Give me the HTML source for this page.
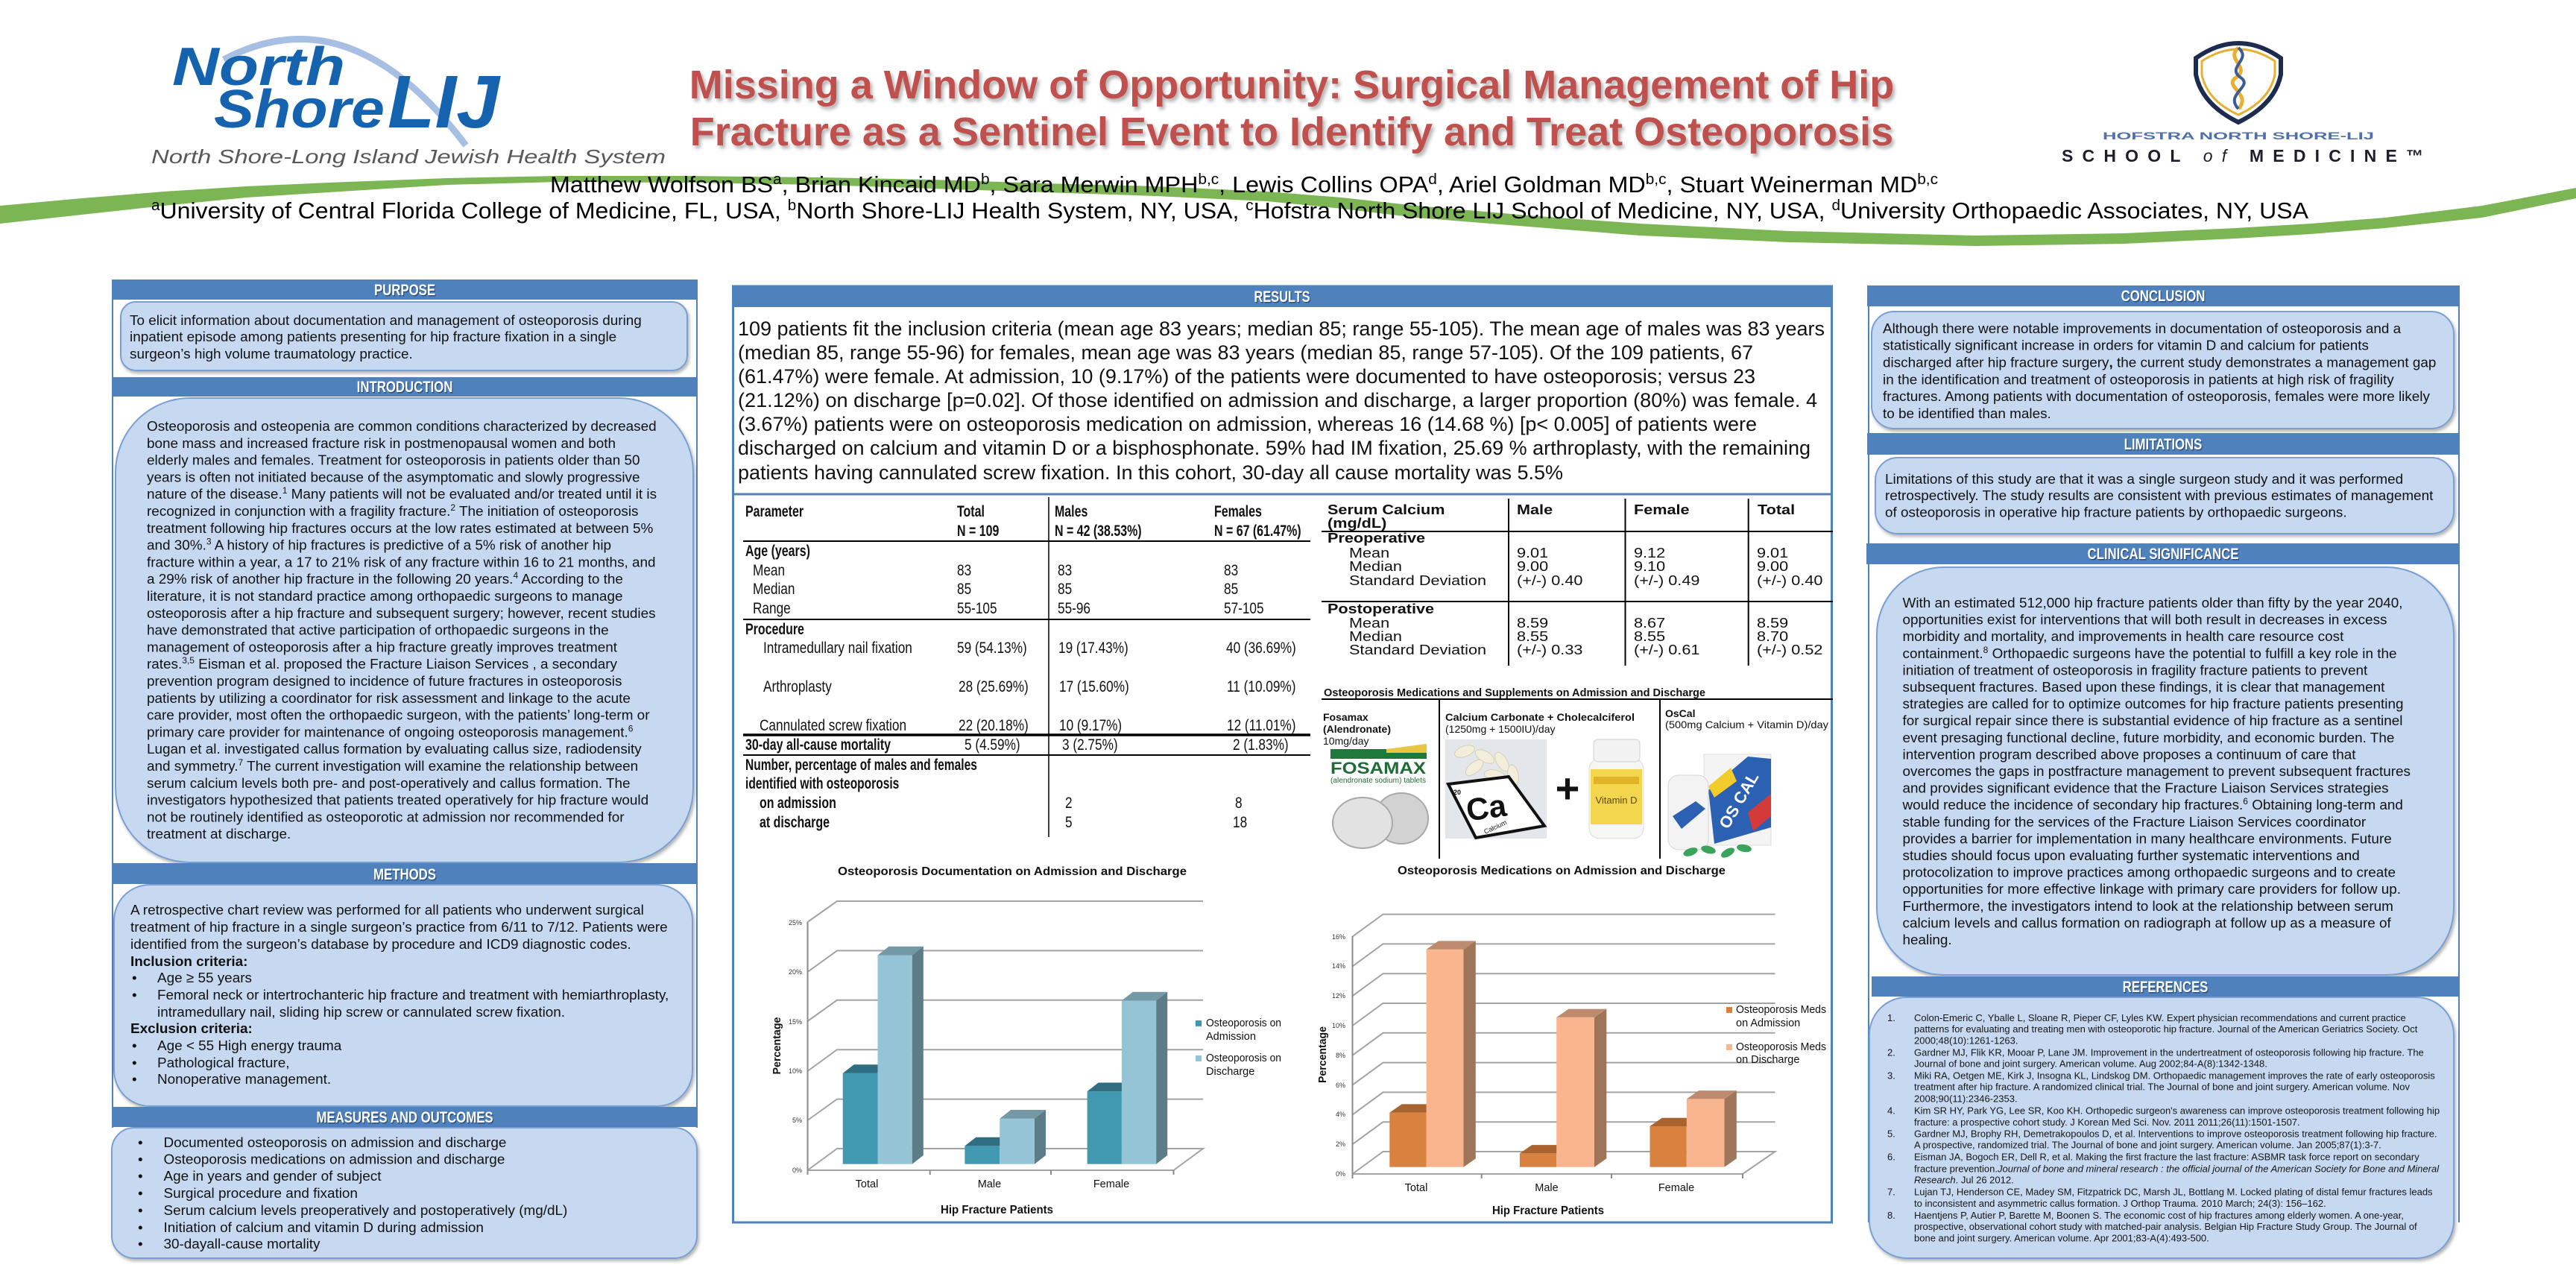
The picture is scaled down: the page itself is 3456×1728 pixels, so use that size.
<!DOCTYPE html>
<html><head><meta charset="utf-8">
<style>
html,body{margin:0;padding:0;background:#fff;overflow:hidden;}
svg{display:block;}
text{font-family:"Liberation Sans",Arial,sans-serif;}
.bt{font-size:21px;font-weight:bold;fill:#fff;}
.bs{font-size:21px;font-weight:bold;fill:#1c3557;opacity:.65;}
.f19{font-size:18.9px;fill:#111;}
.f17{font-size:18.9px;fill:#111;}
.f27{font-size:27px;fill:#111;}
.r13{font-size:13px;fill:#161616;}
.tr{font-size:21px;fill:#111;}
.tbd{font-size:21px;fill:#111;font-weight:bold;}
.sr{font-size:18.5px;fill:#111;}
.sb{font-size:18.5px;fill:#111;font-weight:bold;}
.box{fill:#c6d9f1;stroke:#7a9fd2;stroke-width:2;}
.bar{fill:#4f81bd;}
.grid{stroke:#a3a3a3;stroke-width:2;fill:none;}
.tk{font-size:9px;fill:#333;}
.cl{font-size:14.5px;fill:#111;}
</style></head><body>
<svg width="3456" height="1728" viewBox="0 0 3456 1728" xmlns="http://www.w3.org/2000/svg">
<defs>
<filter id="ds" x="-5%" y="-5%" width="110%" height="115%"><feDropShadow dx="2" dy="3" stdDeviation="2" flood-color="#000" flood-opacity=".3"/></filter>
<filter id="ts" x="-5%" y="-20%" width="110%" height="160%"><feGaussianBlur stdDeviation="2.5"/></filter>
</defs>
<rect width="3456" height="1728" fill="#fff"/>

<!-- green swoosh -->
<path fill="#7cb553" d="M0,276 L110,266 L220,257 L330,250 L441,245 L600,239 L750,236 L920,236 L1100,238 L1250,241 L1400,246 L1550,250 L1700,257 L1800,265 L1900,276 L2050,289 L2200,300 L2400,310 L2650,316 L2850,313 L3000,306 L3100,300 L3200,292 L3330,276 L3456,252 L3456,266 L3330,292 L3200,306 L3100,314 L3000,320 L2850,327 L2650,330 L2400,325 L2200,316 L2050,304 L1900,292 L1800,280 L1700,270 L1550,263 L1400,258 L1250,253 L1100,248 L920,245 L750,244 L600,248 L441,258 L330,265 L220,276 L110,288 L0,300 Z"/>

<!-- North Shore LIJ logo -->
<path d="M300,80 Q470,-10 625,195" fill="none" stroke="#a8bfe4" stroke-width="9"/>
<text x="231" y="114" font-size="72" font-weight="bold" font-style="italic" fill="#1563ae" textLength="232" lengthAdjust="spacingAndGlyphs">North</text>
<text x="287" y="171" font-size="72" font-weight="bold" font-style="italic" fill="#1563ae" textLength="229" lengthAdjust="spacingAndGlyphs">Shore</text>
<text x="520" y="171" font-size="100" font-weight="bold" font-style="italic" fill="#1563ae" textLength="150" lengthAdjust="spacingAndGlyphs">LIJ</text>
<text x="203" y="219" font-size="26" font-style="italic" fill="#585858" textLength="690" lengthAdjust="spacingAndGlyphs">North Shore-Long Island Jewish Health System</text>

<!-- Hofstra logo -->
<path d="M2946,78 Q3003,38 3060,78 L3060,100 Q3052,140 3003,164 Q2954,140 2946,100 Z" fill="#fff" stroke="#1d2b4f" stroke-width="6"/>
<path d="M2954,82 Q3003,50 3052,82 L3052,100 Q3045,135 3003,154 Q2961,135 2954,100 Z" fill="#fff" stroke="#e8b030" stroke-width="3"/>
<path d="M3003,64 C2985,80 3020,90 3000,104 C2982,116 3022,126 3003,146" fill="none" stroke="#e8b030" stroke-width="5"/>
<path d="M3003,64 C3022,80 2986,90 3006,104 C3024,116 2984,126 3003,146" fill="none" stroke="#3a5a9a" stroke-width="4"/>
<text x="2821" y="187" font-size="14" font-weight="bold" fill="#5070ad" textLength="364" lengthAdjust="spacingAndGlyphs">HOFSTRA NORTH SHORE-LIJ</text>
<text x="2766" y="217" font-size="23" font-weight="bold" fill="#1d1d2b" textLength="485" lengthAdjust="spacing">SCHOOL <tspan font-style="italic" font-weight="normal">of</tspan> MEDICINE™</text>

<!-- Title -->
<g filter="url(#ts)" opacity=".45">
<text x="1736" y="136" text-anchor="middle" font-size="54" font-weight="bold" fill="#555">Missing a Window of Opportunity: Surgical Management of Hip</text>
<text x="1736" y="199" text-anchor="middle" font-size="54" font-weight="bold" fill="#555">Fracture as a Sentinel Event to Identify and Treat Osteoporosis</text>
</g>
<text x="1733" y="132" text-anchor="middle" font-size="54" font-weight="bold" fill="#c0504d">Missing a Window of Opportunity: Surgical Management of Hip</text>
<text x="1733" y="195" text-anchor="middle" font-size="54" font-weight="bold" fill="#c0504d">Fracture as a Sentinel Event to Identify and Treat Osteoporosis</text>

<!-- Authors -->
<text x="738" y="258" font-size="31" fill="#000" textLength="1862" lengthAdjust="spacingAndGlyphs">Matthew Wolfson BS<tspan dy="-11" font-size="20">a</tspan><tspan dy="11">, Brian Kincaid MD</tspan><tspan dy="-11" font-size="20">b</tspan><tspan dy="11">,  Sara Merwin MPH</tspan><tspan dy="-11" font-size="20">b,c</tspan><tspan dy="11">, Lewis Collins OPA</tspan><tspan dy="-11" font-size="20">d</tspan><tspan dy="11">, Ariel Goldman MD</tspan><tspan dy="-11" font-size="20">b,c</tspan><tspan dy="11">, Stuart Weinerman MD</tspan><tspan dy="-11" font-size="20">b,c</tspan></text>
<text x="203" y="293" font-size="31" fill="#000" textLength="2894" lengthAdjust="spacingAndGlyphs"><tspan dy="-11" font-size="20">a</tspan><tspan dy="11">University of Central Florida College of Medicine, FL, USA, </tspan><tspan dy="-11" font-size="20">b</tspan><tspan dy="11">North Shore-LIJ Health System, NY, USA, </tspan><tspan dy="-11" font-size="20">c</tspan><tspan dy="11">Hofstra North Shore LIJ School of Medicine, NY, USA, </tspan><tspan dy="-11" font-size="20">d</tspan><tspan dy="11">University Orthopaedic Associates, NY, USA</tspan></text>

<!-- ============ LEFT COLUMN ============ -->
<line x1="151" y1="376" x2="151" y2="1513" stroke="#4f81bd" stroke-width="2"/>
<line x1="935" y1="376" x2="935" y2="1513" stroke="#4f81bd" stroke-width="2"/>

<rect class="bar" x="150" y="375" width="786" height="27"/>
<g transform="translate(543 396) scale(.8 1)"><text class="bs" x="1.5" y="1.5" text-anchor="middle">PURPOSE</text><text class="bt" text-anchor="middle">PURPOSE</text></g>
<rect class="box" x="162" y="405" width="760" height="92" rx="20" filter="url(#ds)"/>
<text class="f19" x="174" y="436">To elicit information about documentation and management of osteoporosis during</text>
<text class="f19" x="174" y="458">inpatient episode among patients presenting for hip fracture fixation in a single</text>
<text class="f19" x="174" y="481">surgeon’s high volume traumatology practice.</text>

<rect class="bar" x="150" y="506" width="786" height="26"/>
<g transform="translate(543 526) scale(.8 1)"><text class="bs" x="1.5" y="1.5" text-anchor="middle">INTRODUCTION</text><text class="bt" text-anchor="middle">INTRODUCTION</text></g>
<rect class="box" x="155" y="534" width="775" height="623" rx="100" filter="url(#ds)"/>
<g class="f17">
<text class="f17" x="197" y="578">Osteoporosis and osteopenia are common conditions characterized by decreased</text>
<text class="f17" x="197" y="600.8">bone mass and increased fracture risk in postmenopausal women and both</text>
<text class="f17" x="197" y="623.6">elderly males and females. Treatment for osteoporosis in patients older than 50</text>
<text class="f17" x="197" y="646.4">years is often not initiated because of the asymptomatic and slowly progressive</text>
<text class="f17" x="197" y="669.2">nature of the disease.<tspan dy="-7" font-size="12">1</tspan><tspan dy="7"> Many patients will not be evaluated and/or treated until it is</tspan></text>
<text class="f17" x="197" y="692">recognized in conjunction with a fragility fracture.<tspan dy="-7" font-size="12">2</tspan><tspan dy="7"> The initiation of osteoporosis</tspan></text>
<text class="f17" x="197" y="714.8">treatment following hip fractures  occurs at the low rates estimated at between 5%</text>
<text class="f17" x="197" y="737.6">and 30%.<tspan dy="-7" font-size="12">3</tspan><tspan dy="7"> A history of hip fractures is predictive of a 5% risk of another hip</tspan></text>
<text class="f17" x="197" y="760.4">fracture within a year, a 17 to 21% risk of any fracture within 16 to 21 months, and</text>
<text class="f17" x="197" y="783.2">a 29% risk of another hip fracture in the following 20 years.<tspan dy="-7" font-size="12">4</tspan><tspan dy="7"> According to the</tspan></text>
<text class="f17" x="197" y="806">literature, it is not standard practice among orthopaedic surgeons to manage</text>
<text class="f17" x="197" y="828.8">osteoporosis after a hip fracture and subsequent surgery; however, recent studies</text>
<text class="f17" x="197" y="851.6">have demonstrated that active participation of orthopaedic surgeons in the</text>
<text class="f17" x="197" y="874.4">management of osteoporosis after a hip fracture greatly improves treatment</text>
<text class="f17" x="197" y="897.2">rates.<tspan dy="-7" font-size="12">3,5</tspan><tspan dy="7"> Eisman et al. proposed the Fracture Liaison Services , a secondary</tspan></text>
<text class="f17" x="197" y="920">prevention program designed to incidence of future fractures in osteoporosis</text>
<text class="f17" x="197" y="942.8">patients by utilizing a coordinator for risk assessment and linkage to the acute</text>
<text class="f17" x="197" y="965.6">care provider, most often the orthopaedic surgeon, with the patients’ long-term or</text>
<text class="f17" x="197" y="988.4">primary care provider for maintenance of  ongoing osteoporosis management.<tspan dy="-7" font-size="12">6</tspan></text>
<text class="f17" x="197" y="1011.2">Lugan et al. investigated callus formation by evaluating callus size, radiodensity</text>
<text class="f17" x="197" y="1034">and symmetry.<tspan dy="-7" font-size="12">7</tspan><tspan dy="7"> The current investigation will examine the relationship between</tspan></text>
<text class="f17" x="197" y="1056.8">serum calcium levels both pre- and post-operatively and callus formation. The</text>
<text class="f17" x="197" y="1079.6">investigators hypothesized that patients treated operatively for hip fracture would</text>
<text class="f17" x="197" y="1102.4">not be routinely identified as osteoporotic at admission nor recommended for</text>
<text class="f17" x="197" y="1125.2">treatment at discharge.</text>
</g>

<rect class="bar" x="150" y="1158" width="786" height="28"/>
<g transform="translate(543 1180) scale(.8 1)"><text class="bs" x="1.5" y="1.5" text-anchor="middle">METHODS</text><text class="bt" text-anchor="middle">METHODS</text></g>
<rect class="box" x="153" y="1187" width="776" height="297" rx="48" filter="url(#ds)"/>
<text class="f19" x="175" y="1227">A retrospective chart review was performed for all patients who underwent surgical</text>
<text class="f19" x="175" y="1250">treatment of hip fracture in a single surgeon’s practice from 6/11 to 7/12. Patients were</text>
<text class="f19" x="175" y="1273">identified from the surgeon’s database by procedure and ICD9 diagnostic codes.</text>
<text class="f19" x="175" y="1296" font-weight="bold">Inclusion criteria:</text>
<text class="f19" x="177" y="1318">•</text><text class="f19" x="211" y="1318">Age ≥ 55 years</text>
<text class="f19" x="177" y="1341">•</text><text class="f19" x="211" y="1341">Femoral neck or intertrochanteric hip fracture and treatment with hemiarthroplasty,</text>
<text class="f19" x="211" y="1364">intramedullary nail, sliding hip screw or cannulated screw fixation.</text>
<text class="f19" x="175" y="1386" font-weight="bold">Exclusion criteria:</text>
<text class="f19" x="177" y="1409">•</text><text class="f19" x="211" y="1409">Age &lt; 55 High energy trauma</text>
<text class="f19" x="177" y="1432">•</text><text class="f19" x="211" y="1432">Pathological fracture,</text>
<text class="f19" x="177" y="1454">•</text><text class="f19" x="211" y="1454">Nonoperative management.</text>

<rect class="bar" x="150" y="1485" width="786" height="27"/>
<g transform="translate(543 1506) scale(.8 1)"><text class="bs" x="1.5" y="1.5" text-anchor="middle">MEASURES AND OUTCOMES</text><text class="bt" text-anchor="middle">MEASURES AND OUTCOMES</text></g>
<rect class="box" x="150" y="1513" width="785" height="175" rx="30" filter="url(#ds)"/>
<text class="f19" x="185" y="1539">•</text><text class="f19" x="219.5" y="1539">Documented osteoporosis on admission and discharge</text>
<text class="f19" x="185" y="1561.5">•</text><text class="f19" x="219.5" y="1561.5">Osteoporosis medications on admission and discharge</text>
<text class="f19" x="185" y="1584">•</text><text class="f19" x="219.5" y="1584">Age in years and gender of subject</text>
<text class="f19" x="185" y="1607">•</text><text class="f19" x="219.5" y="1607">Surgical procedure and fixation</text>
<text class="f19" x="185" y="1630">•</text><text class="f19" x="219.5" y="1630">Serum calcium levels preoperatively and postoperatively (mg/dL)</text>
<text class="f19" x="185" y="1653">•</text><text class="f19" x="219.5" y="1653">Initiation of calcium and vitamin D during admission</text>
<text class="f19" x="185" y="1675">•</text><text class="f19" x="219.5" y="1675">30-dayall-cause mortality</text>

<!-- ============ MIDDLE COLUMN ============ -->
<rect x="983.5" y="384" width="1474" height="1256" fill="none" stroke="#4f81bd" stroke-width="3"/>
<rect class="bar" x="982" y="383" width="1477" height="29"/>
<g transform="translate(1720 405) scale(.78 1)"><text class="bs" x="1.5" y="1.5" text-anchor="middle">RESULTS</text><text class="bt" text-anchor="middle">RESULTS</text></g>
<text class="f27" x="990" y="450" textLength="1458" lengthAdjust="spacing">109 patients fit the inclusion criteria (mean age 83 years; median 85; range 55-105). The mean age of males was 83 years</text>
<text class="f27" x="990" y="482" textLength="1362" lengthAdjust="spacing">(median 85, range 55-96) for females, mean age was 83 years (median 85, range 57-105). Of the 109 patients, 67</text>
<text class="f27" x="990" y="514" textLength="1365" lengthAdjust="spacing">(61.47%) were female. At admission, 10 (9.17%) of the patients were documented to have osteoporosis; versus 23</text>
<text class="f27" x="990" y="546" textLength="1448" lengthAdjust="spacing">(21.12%) on discharge [p=0.02]. Of those identified on admission and discharge, a larger proportion (80%) was female.  4</text>
<text class="f27" x="990" y="578" textLength="1367" lengthAdjust="spacing">(3.67%) patients were on osteoporosis medication on admission, whereas 16 (14.68 %) [p&lt; 0.005] of patients were</text>
<text class="f27" x="990" y="610" textLength="1439" lengthAdjust="spacing">discharged on calcium and vitamin D or a bisphosphonate. 59% had IM fixation, 25.69 % arthroplasty, with the remaining</text>
<text class="f27" x="990" y="643" textLength="1107" lengthAdjust="spacing">patients having cannulated screw fixation. In this cohort, 30-day all cause mortality was 5.5%</text>
<line x1="982" y1="663" x2="2459" y2="663" stroke="#4f81bd" stroke-width="3"/>

<!-- Table 1 -->
<g stroke="#000" stroke-width="2">
<line x1="997" y1="726" x2="1758" y2="726"/>
<line x1="997" y1="831" x2="1758" y2="831"/>
<line x1="997" y1="986" x2="1758" y2="986" stroke-width="3.5"/>
<line x1="997" y1="1013" x2="1758" y2="1013"/>
<line x1="1407" y1="667" x2="1407" y2="1123" stroke-width="1.5"/>
</g>
<text class="tbd" transform="translate(1000 693) scale(.76 1)">Parameter</text>
<text class="tbd" transform="translate(1284 693) scale(.76 1)">Total</text>
<text class="tbd" transform="translate(1284 719) scale(.76 1)">N = 109</text>
<text class="tbd" transform="translate(1415 693) scale(.76 1)">Males</text>
<text class="tbd" transform="translate(1415 719) scale(.76 1)">N = 42 (38.53%)</text>
<text class="tbd" transform="translate(1629 693) scale(.76 1)">Females</text>
<text class="tbd" transform="translate(1629 719) scale(.76 1)">N = 67 (61.47%)</text>
<text class="tbd" transform="translate(1000 746) scale(.76 1)">Age (years)</text>
<text class="tr" transform="translate(1010 772) scale(.82 1)">Mean</text>
<text class="tr" transform="translate(1284 772) scale(.82 1)">83</text>
<text class="tr" transform="translate(1419 772) scale(.82 1)">83</text>
<text class="tr" transform="translate(1642 772) scale(.82 1)">83</text>
<text class="tr" transform="translate(1010 797) scale(.82 1)">Median</text>
<text class="tr" transform="translate(1284 797) scale(.82 1)">85</text>
<text class="tr" transform="translate(1419 797) scale(.82 1)">85</text>
<text class="tr" transform="translate(1642 797) scale(.82 1)">85</text>
<text class="tr" transform="translate(1010 823) scale(.82 1)">Range</text>
<text class="tr" transform="translate(1284 823) scale(.82 1)">55-105</text>
<text class="tr" transform="translate(1419 823) scale(.82 1)">55-96</text>
<text class="tr" transform="translate(1642 823) scale(.82 1)">57-105</text>
<text class="tbd" transform="translate(1000 851) scale(.76 1)">Procedure</text>
<text class="tr" transform="translate(1024 876) scale(.82 1)">Intramedullary  nail fixation</text>
<text class="tr" transform="translate(1284 876) scale(.82 1)">59 (54.13%)</text>
<text class="tr" transform="translate(1420 876) scale(.82 1)">19 (17.43%)</text>
<text class="tr" transform="translate(1645 876) scale(.82 1)">40 (36.69%)</text>
<text class="tr" transform="translate(1024 928) scale(.82 1)">Arthroplasty</text>
<text class="tr" transform="translate(1286 928) scale(.82 1)">28 (25.69%)</text>
<text class="tr" transform="translate(1421 928) scale(.82 1)">17 (15.60%)</text>
<text class="tr" transform="translate(1646 928) scale(.82 1)">11 (10.09%)</text>
<text class="tr" transform="translate(1019 980) scale(.82 1)">Cannulated  screw fixation</text>
<text class="tr" transform="translate(1286 980) scale(.82 1)">22 (20.18%)</text>
<text class="tr" transform="translate(1421 980) scale(.82 1)">10 (9.17%)</text>
<text class="tr" transform="translate(1646 980) scale(.82 1)">12 (11.01%)</text>
<text class="tbd" transform="translate(1000 1006) scale(.76 1)">30-day  all-cause  mortality</text>
<text class="tr" transform="translate(1294 1006) scale(.82 1)">5 (4.59%)</text>
<text class="tr" transform="translate(1425 1006) scale(.82 1)">3 (2.75%)</text>
<text class="tr" transform="translate(1654 1006) scale(.82 1)">2 (1.83%)</text>
<text class="tbd" transform="translate(1000 1033) scale(.74 1)">Number, percentage  of males and females</text>
<text class="tbd" transform="translate(1000 1058) scale(.74 1)">identified with osteoporosis</text>
<text class="tbd" transform="translate(1019 1084) scale(.76 1)">on admission</text>
<text class="tr" transform="translate(1429 1084) scale(.82 1)">2</text>
<text class="tr" transform="translate(1657 1084) scale(.82 1)">8</text>
<text class="tbd" transform="translate(1019 1110) scale(.76 1)">at discharge</text>
<text class="tr" transform="translate(1429 1110) scale(.82 1)">5</text>
<text class="tr" transform="translate(1654 1110) scale(.82 1)">18</text>

<!-- Table 2 -->
<g stroke="#000" stroke-width="2">
<line x1="1773" y1="713" x2="2459" y2="713"/>
<line x1="1773" y1="807" x2="2459" y2="807"/>
<line x1="2024" y1="669" x2="2024" y2="893"/>
<line x1="2180.5" y1="669" x2="2180.5" y2="893"/>
<line x1="2345.7" y1="669" x2="2345.7" y2="893"/>
</g>
<text class="sb" transform="translate(1781 690) scale(1.17 1)">Serum Calcium</text>
<text class="sb" transform="translate(1781 708) scale(1.17 1)">(mg/dL)</text>
<text class="sb" transform="translate(2035 690) scale(1.17 1)">Male</text>
<text class="sb" transform="translate(2192 690) scale(1.17 1)">Female</text>
<text class="sb" transform="translate(2358 690) scale(1.17 1)">Total</text>
<text class="sb" transform="translate(1781 728) scale(1.17 1)">Preoperative</text>
<text class="sr" transform="translate(1810 748) scale(1.17 1)">Mean</text>
<text class="sr" transform="translate(1810 766) scale(1.17 1)">Median</text>
<text class="sr" transform="translate(1810 785) scale(1.17 1)">Standard Deviation</text>
<text class="sr" transform="translate(2035 748) scale(1.17 1)">9.01</text>
<text class="sr" transform="translate(2035 766) scale(1.17 1)">9.00</text>
<text class="sr" transform="translate(2035 785) scale(1.17 1)">(+/-) 0.40</text>
<text class="sr" transform="translate(2192 748) scale(1.17 1)">9.12</text>
<text class="sr" transform="translate(2192 766) scale(1.17 1)">9.10</text>
<text class="sr" transform="translate(2192 785) scale(1.17 1)">(+/-) 0.49</text>
<text class="sr" transform="translate(2357 748) scale(1.17 1)">9.01</text>
<text class="sr" transform="translate(2357 766) scale(1.17 1)">9.00</text>
<text class="sr" transform="translate(2357 785) scale(1.17 1)">(+/-) 0.40</text>
<text class="sb" transform="translate(1781 823) scale(1.17 1)">Postoperative</text>
<text class="sr" transform="translate(1810 842) scale(1.17 1)">Mean</text>
<text class="sr" transform="translate(1810 860) scale(1.17 1)">Median</text>
<text class="sr" transform="translate(1810 878) scale(1.17 1)">Standard Deviation</text>
<text class="sr" transform="translate(2035 842) scale(1.17 1)">8.59</text>
<text class="sr" transform="translate(2035 860) scale(1.17 1)">8.55</text>
<text class="sr" transform="translate(2035 878) scale(1.17 1)">(+/-) 0.33</text>
<text class="sr" transform="translate(2192 842) scale(1.17 1)">8.67</text>
<text class="sr" transform="translate(2192 860) scale(1.17 1)">8.55</text>
<text class="sr" transform="translate(2192 878) scale(1.17 1)">(+/-) 0.61</text>
<text class="sr" transform="translate(2357 842) scale(1.17 1)">8.59</text>
<text class="sr" transform="translate(2357 860) scale(1.17 1)">8.70</text>
<text class="sr" transform="translate(2357 878) scale(1.17 1)">(+/-) 0.52</text>

<!-- Medications -->
<text x="1776" y="934" font-size="14.5" font-weight="bold" fill="#111" textLength="512" lengthAdjust="spacingAndGlyphs">Osteoporosis Medications and Supplements on Admission  and Discharge</text>
<g stroke="#000" stroke-width="2">
<line x1="1773" y1="938" x2="2459" y2="938"/>
<line x1="1931" y1="938" x2="1931" y2="1152"/>
<line x1="2227" y1="938" x2="2227" y2="1152"/>
</g>
<text x="1775" y="967" font-size="14" font-weight="bold" fill="#111">Fosamax</text>
<text x="1775" y="983" font-size="14" font-weight="bold" fill="#111">(Alendronate)</text>
<text x="1775" y="999" font-size="14" fill="#111">10mg/day</text>
<rect x="1785" y="1005" width="129" height="13" fill="#1e7a3c"/>
<polygon points="1860,1005 1914,998 1914,1010 1860,1010" fill="#e8c542"/>
<text x="1785" y="1038" font-size="22" font-weight="bold" fill="#1f6b35" textLength="128" lengthAdjust="spacingAndGlyphs">FOSAMAX</text>
<text x="1785" y="1050" font-size="10" fill="#2a6a3a" textLength="128" lengthAdjust="spacingAndGlyphs">(alendronate sodium) tablets</text>
<ellipse cx="1880" cy="1098" rx="36" ry="34" fill="#d2d2d2" stroke="#a8a8a8" stroke-width="2"/>
<ellipse cx="1828" cy="1104" rx="40" ry="34" fill="#e2e2e2" stroke="#a8a8a8" stroke-width="2"/>

<text x="1939" y="967" font-size="14" font-weight="bold" fill="#111" textLength="254" lengthAdjust="spacingAndGlyphs">Calcium Carbonate + Cholecalciferol</text>
<text x="1939" y="983" font-size="14" fill="#111">(1250mg + 1500IU)/day</text>
<rect x="1939" y="992" width="136" height="133" fill="#e3e6ea"/>
<g fill="#f3eedb" stroke="#d8d0b6">
<ellipse cx="1965" cy="1008" rx="14" ry="7" transform="rotate(-20 1965 1008)"/>
<ellipse cx="1992" cy="1015" rx="14" ry="7" transform="rotate(30 1992 1015)"/>
<ellipse cx="2015" cy="1022" rx="14" ry="7" transform="rotate(60 2015 1022)"/>
<ellipse cx="1978" cy="1030" rx="14" ry="7" transform="rotate(-40 1978 1030)"/>
<ellipse cx="2030" cy="1040" rx="14" ry="7" transform="rotate(80 2030 1040)"/>
<ellipse cx="2005" cy="1040" rx="14" ry="7" transform="rotate(10 2005 1040)"/>
</g>
<polygon points="1943,1052 2024,1042 2072,1108 1980,1124" fill="#fff" stroke="#111" stroke-width="4"/>
<text x="1950" y="1066" font-size="9" font-weight="bold" fill="#111">20</text>
<text x="1968" y="1098" font-size="42" font-weight="bold" fill="#111" transform="rotate(-8 1995 1090)">Ca</text>
<text x="1990" y="1113" font-size="9" fill="#111" transform="rotate(-25 2005 1110)">Calcium</text>
<text x="2103" y="1077" font-size="56" font-weight="bold" fill="#111" text-anchor="middle">+</text>
<rect x="2132" y="1018" width="73" height="107" rx="14" fill="#f6f6f3" stroke="#dcdcdc"/>
<rect x="2138" y="992" width="62" height="30" rx="6" fill="#f2f2f2" stroke="#d0d0d0"/>
<rect x="2134" y="1032" width="69" height="74" fill="#f3d54e"/>
<rect x="2138" y="1042" width="61" height="10" fill="#e0b428"/>
<text x="2168.5" y="1078" font-size="13" font-family="Liberation Serif,serif" fill="#5a4a10" text-anchor="middle" textLength="56" lengthAdjust="spacingAndGlyphs">Vitamin D</text>

<text x="2234" y="962" font-size="14" font-weight="bold" fill="#111">OsCal</text>
<text x="2234" y="977" font-size="14" fill="#111" textLength="219" lengthAdjust="spacingAndGlyphs">(500mg Calcium + Vitamin D)/day</text>
<rect x="2286" y="1012" width="90" height="122" fill="#f4f4f4" stroke="#ddd"/>
<polygon points="2292,1060 2345,1015 2376,1018 2376,1110 2300,1132" fill="#2b60b3"/>
<polygon points="2292,1055 2322,1030 2330,1048 2300,1070" fill="#f2cc2a"/>
<polygon points="2345,1090 2376,1065 2376,1095 2352,1115" fill="#d43a3a"/>
<text x="2335" y="1080" font-size="22" font-weight="bold" fill="#fff" text-anchor="middle" transform="rotate(-60 2335 1075)">OS CAL</text>
<rect x="2238" y="1040" width="54" height="100" rx="14" fill="#f3f3f3" stroke="#d6d6d6"/>
<polygon points="2244,1095 2275,1075 2288,1085 2256,1112" fill="#2b60b3"/>
<g fill="#3aa45c">
<ellipse cx="2268" cy="1143" rx="10" ry="5" transform="rotate(-20 2268 1143)"/>
<ellipse cx="2292" cy="1140" rx="10" ry="5" transform="rotate(15 2292 1140)"/>
<ellipse cx="2318" cy="1144" rx="10" ry="5" transform="rotate(-30 2318 1144)"/>
<ellipse cx="2340" cy="1138" rx="10" ry="5" transform="rotate(10 2340 1138)"/>
</g>

<!-- Chart 1 -->
<text x="1124" y="1174" font-size="15.5" font-weight="bold" fill="#111" textLength="468" lengthAdjust="spacingAndGlyphs">Osteoporosis Documentation on Admission and Discharge</text>
<g class="grid">
<polyline points="1083.5,1237 1123,1209 1614,1209"/>
<polyline points="1083.5,1304 1123,1275.4 1614,1275.4"/>
<polyline points="1083.5,1370 1123,1341.8 1614,1341.8"/>
<polyline points="1083.5,1437 1123,1408.2 1614,1408.2"/>
<polyline points="1083.5,1503 1123,1474.6 1614,1474.6"/>
<polyline points="1083.5,1570 1123,1541 1614,1541 1574.5,1570 1083.5,1570"/>
</g>
<line x1="1083.5" y1="1237" x2="1083.5" y2="1576" stroke="#8a8a8a" stroke-width="2"/>
<g stroke="#8a8a8a" stroke-width="2"><line x1="1247.7" y1="1570" x2="1247.7" y2="1576"/><line x1="1410" y1="1570" x2="1410" y2="1576"/><line x1="1574.5" y1="1570" x2="1574.5" y2="1576"/></g>
<g class="tk" text-anchor="end">
<text x="1076" y="1241">25%</text><text x="1076" y="1307">20%</text><text x="1076" y="1374">15%</text><text x="1076" y="1440">10%</text><text x="1076" y="1506">5%</text><text x="1076" y="1573">0%</text>
</g>
<rect x="1130.7" y="1439.9" width="46.8" height="121.8" fill="#4198b1"/>
<polygon points="1130.7,1439.9 1177.5,1439.9 1192.5,1428.2 1145.7,1428.2" fill="#2f6e80"/>
<rect x="1177.5" y="1281.5" width="46.3" height="280.2" fill="#94c4d6"/>
<polygon points="1177.5,1281.5 1223.8,1281.5 1238.8,1269.8 1192.5,1269.8" fill="#7498a6"/>
<polygon points="1223.8,1281.5 1238.8,1269.8 1238.8,1550 1223.8,1561.7" fill="#5c7c88"/>
<rect x="1294.4" y="1537.4" width="46.8" height="24.3" fill="#4198b1"/>
<polygon points="1294.4,1537.4 1341.2,1537.4 1356.2,1525.7 1309.4,1525.7" fill="#2f6e80"/>
<rect x="1341.2" y="1500.7" width="46.8" height="61" fill="#94c4d6"/>
<polygon points="1341.2,1500.7 1388,1500.7 1403,1489 1356.2,1489" fill="#7498a6"/>
<polygon points="1388,1500.7 1403,1489 1403,1550 1388,1561.7" fill="#5c7c88"/>
<rect x="1458.6" y="1464.2" width="46.3" height="97.5" fill="#4198b1"/>
<polygon points="1458.6,1464.2 1504.9,1464.2 1519.9,1452.5 1473.6,1452.5" fill="#2f6e80"/>
<rect x="1504.9" y="1342.4" width="46.3" height="219.3" fill="#94c4d6"/>
<polygon points="1504.9,1342.4 1551.2,1342.4 1566.2,1330.7 1519.9,1330.7" fill="#7498a6"/>
<polygon points="1551.2,1342.4 1566.2,1330.7 1566.2,1550 1551.2,1561.7" fill="#5c7c88"/>
<rect x="1604" y="1369" width="8" height="8" fill="#4198b1"/>
<text class="cl" x="1618" y="1377" font-size="14" textLength="101" lengthAdjust="spacingAndGlyphs">Osteoporosis on</text>
<text class="cl" x="1618" y="1395" font-size="14">Admission</text>
<rect x="1604" y="1416" width="8" height="8" fill="#94c4d6"/>
<text class="cl" x="1618" y="1424" font-size="14" textLength="101" lengthAdjust="spacingAndGlyphs">Osteoporosis on</text>
<text class="cl" x="1618" y="1442" font-size="14">Discharge</text>
<text class="cl" x="1163" y="1593" text-anchor="middle">Total</text>
<text class="cl" x="1327.5" y="1593" text-anchor="middle">Male</text>
<text class="cl" x="1491" y="1593" text-anchor="middle">Female</text>
<text x="1262" y="1628" font-size="16" font-weight="bold" fill="#111" textLength="151" lengthAdjust="spacingAndGlyphs">Hip Fracture Patients</text>
<text transform="translate(1047 1403) rotate(-90)" text-anchor="middle" font-size="15" font-weight="bold" fill="#111" textLength="77" lengthAdjust="spacingAndGlyphs">Percentage</text>

<!-- Chart 2 -->
<text x="1875" y="1173" font-size="15.5" font-weight="bold" fill="#111" textLength="440" lengthAdjust="spacingAndGlyphs">Osteoporosis Medications on Admission and Discharge</text>
<g class="grid">
<polyline points="1814.5,1256.6 1855.5,1226.6 2381.5,1226.6"/>
<polyline points="1814.5,1296.4 1855.5,1266.4 2381.5,1266.4"/>
<polyline points="1814.5,1336.2 1855.5,1306.2 2381.5,1306.2"/>
<polyline points="1814.5,1376 1855.5,1346 2381.5,1346"/>
<polyline points="1814.5,1415.8 1855.5,1385.8 2381.5,1385.8"/>
<polyline points="1814.5,1455.6 1855.5,1425.6 2381.5,1425.6"/>
<polyline points="1814.5,1495.4 1855.5,1465.4 2381.5,1465.4"/>
<polyline points="1814.5,1535.2 1855.5,1505.2 2381.5,1505.2"/>
<polyline points="1814.5,1575 1855.5,1545 2381.5,1545 2338,1575 1814.5,1575"/>
</g>
<line x1="1814.5" y1="1256" x2="1814.5" y2="1581" stroke="#8a8a8a" stroke-width="2"/>
<g stroke="#8a8a8a" stroke-width="2"><line x1="1987.7" y1="1575" x2="1987.7" y2="1581"/><line x1="2162" y1="1575" x2="2162" y2="1581"/><line x1="2338" y1="1575" x2="2338" y2="1581"/></g>
<g class="tk" text-anchor="end">
<text x="1805" y="1260">16%</text><text x="1805" y="1299">14%</text><text x="1805" y="1339">12%</text><text x="1805" y="1379">10%</text><text x="1805" y="1419">8%</text><text x="1805" y="1459">6%</text><text x="1805" y="1498">4%</text><text x="1805" y="1538">2%</text><text x="1805" y="1578">0%</text>
</g>
<rect x="1864.3" y="1492.7" width="49.3" height="73" fill="#d9823f"/>
<polygon points="1864.3,1492.7 1913.6,1492.7 1929.9,1481.4 1880.6,1481.4" fill="#a9632f"/>
<rect x="1913.6" y="1273.7" width="49.9" height="292" fill="#f9b58d"/>
<polygon points="1913.6,1273.7 1963.5,1273.7 1979.8,1262.4 1929.9,1262.4" fill="#be8b6e"/>
<polygon points="1963.5,1273.7 1979.8,1262.4 1979.8,1554.4 1963.5,1565.7" fill="#9e7559"/>
<rect x="2038.9" y="1547.4" width="49.3" height="18.3" fill="#d9823f"/>
<polygon points="2038.9,1547.4 2088.2,1547.4 2104.5,1536.1 2055.2,1536.1" fill="#a9632f"/>
<rect x="2088.2" y="1364.9" width="50.8" height="200.8" fill="#f9b58d"/>
<polygon points="2088.2,1364.9 2139,1364.9 2155.3,1353.6 2104.5,1353.6" fill="#be8b6e"/>
<polygon points="2139,1364.9 2155.3,1353.6 2155.3,1554.4 2139,1565.7" fill="#9e7559"/>
<rect x="2213.5" y="1511" width="49.3" height="54.7" fill="#d9823f"/>
<polygon points="2213.5,1511 2262.8,1511 2279.1,1499.7 2229.8,1499.7" fill="#a9632f"/>
<rect x="2262.8" y="1474.4" width="50.7" height="91.3" fill="#f9b58d"/>
<polygon points="2262.8,1474.4 2313.5,1474.4 2329.8,1463.1 2279.1,1463.1" fill="#be8b6e"/>
<polygon points="2313.5,1474.4 2329.8,1463.1 2329.8,1554.4 2313.5,1565.7" fill="#9e7559"/>
<rect x="2316" y="1351" width="8" height="8" fill="#d9823f"/>
<text class="cl" x="2329" y="1359" font-size="14" textLength="121" lengthAdjust="spacingAndGlyphs">Osteoporosis Meds</text>
<text class="cl" x="2329" y="1377" font-size="14">on Admission</text>
<rect x="2316" y="1401" width="8" height="8" fill="#f9b58d"/>
<text class="cl" x="2329" y="1409" font-size="14" textLength="121" lengthAdjust="spacingAndGlyphs">Osteoporosis Meds</text>
<text class="cl" x="2329" y="1426" font-size="14">on Discharge</text>
<text class="cl" x="1900" y="1598" text-anchor="middle">Total</text>
<text class="cl" x="2075" y="1598" text-anchor="middle">Male</text>
<text class="cl" x="2249" y="1598" text-anchor="middle">Female</text>
<text x="2002" y="1629" font-size="16" font-weight="bold" fill="#111" textLength="150" lengthAdjust="spacingAndGlyphs">Hip Fracture Patients</text>
<text transform="translate(1779 1415) rotate(-90)" text-anchor="middle" font-size="15" font-weight="bold" fill="#111" textLength="76" lengthAdjust="spacingAndGlyphs">Percentage</text>

<!-- ============ RIGHT COLUMN ============ -->
<line x1="2507" y1="384" x2="2507" y2="1640" stroke="#4f81bd" stroke-width="2"/>
<line x1="3299" y1="384" x2="3299" y2="1640" stroke="#4f81bd" stroke-width="2"/>

<rect class="bar" x="2505" y="383" width="795" height="28"/>
<g transform="translate(2902 404) scale(.8 1)"><text class="bs" x="1.5" y="1.5" text-anchor="middle">CONCLUSION</text><text class="bt" text-anchor="middle">CONCLUSION</text></g>
<rect class="box" x="2511" y="418" width="781" height="157" rx="30" filter="url(#ds)"/>
<text class="f19" x="2526" y="447">Although there were notable improvements in documentation of osteoporosis and a</text>
<text class="f19" x="2526" y="469.6">statistically significant increase in orders for vitamin D and calcium for patients</text>
<text class="f19" x="2526" y="492.6">discharged after hip fracture surgery<tspan font-weight="bold">,</tspan> the current study demonstrates a management gap</text>
<text class="f19" x="2526" y="515.5">in the identification and treatment of osteoporosis in patients at high risk of fragility</text>
<text class="f19" x="2526" y="538">fractures. Among patients with documentation of osteoporosis, females were more likely</text>
<text class="f19" x="2526" y="561">to be identified than males.</text>

<rect class="bar" x="2505" y="581" width="795" height="29"/>
<g transform="translate(2902 603) scale(.8 1)"><text class="bs" x="1.5" y="1.5" text-anchor="middle">LIMITATIONS</text><text class="bt" text-anchor="middle">LIMITATIONS</text></g>
<rect class="box" x="2516" y="614" width="776" height="102" rx="30" filter="url(#ds)"/>
<text class="f19" x="2529" y="649">Limitations of this study are that it was a single surgeon study and it was performed</text>
<text class="f19" x="2529" y="671">retrospectively. The study results are consistent with previous estimates of management</text>
<text class="f19" x="2529" y="693.5">of osteoporosis in operative hip fracture patients by orthopaedic surgeons.</text>

<rect class="bar" x="2504" y="729" width="796" height="28"/>
<g transform="translate(2902 750) scale(.8 1)"><text class="bs" x="1.5" y="1.5" text-anchor="middle">CLINICAL SIGNIFICANCE</text><text class="bt" text-anchor="middle">CLINICAL SIGNIFICANCE</text></g>
<rect class="box" x="2518" y="761" width="774" height="547" rx="90" filter="url(#ds)"/>
<text class="f19" x="2552.5" y="815">With an estimated 512,000 hip fracture patients older than fifty by the year 2040,</text>
<text class="f19" x="2552.5" y="837.6">opportunities exist for interventions that will both result in decreases in excess</text>
<text class="f19" x="2552.5" y="860.2">morbidity and mortality, and improvements in health care resource cost</text>
<text class="f19" x="2552.5" y="882.8">containment.<tspan dy="-7" font-size="12">8</tspan><tspan dy="7"> Orthopaedic surgeons have the potential to fulfill a key role in the</tspan></text>
<text class="f19" x="2552.5" y="905.4">initiation of treatment of osteoporosis in fragility fracture patients to prevent</text>
<text class="f19" x="2552.5" y="928">subsequent fractures. Based upon these findings, it is clear that management</text>
<text class="f19" x="2552.5" y="950.6">strategies are called for to optimize outcomes for hip fracture patients presenting</text>
<text class="f19" x="2552.5" y="973.2">for surgical repair since there is substantial evidence of hip fracture as a sentinel</text>
<text class="f19" x="2552.5" y="995.8">event presaging functional decline, future morbidity, and economic burden. The</text>
<text class="f19" x="2552.5" y="1018.4">intervention program described above proposes a continuum of care that</text>
<text class="f19" x="2552.5" y="1041">overcomes the gaps in postfracture management to prevent subsequent fractures</text>
<text class="f19" x="2552.5" y="1063.6">and provides significant evidence that the Fracture Liaison Services strategies</text>
<text class="f19" x="2552.5" y="1086.2">would reduce the incidence of secondary hip fractures.<tspan dy="-7" font-size="12">6</tspan><tspan dy="7"> Obtaining long-term and</tspan></text>
<text class="f19" x="2552.5" y="1108.8">stable funding for the services of the Fracture Liaison Services coordinator</text>
<text class="f19" x="2552.5" y="1131.4">provides a barrier for implementation in many healthcare environments. Future</text>
<text class="f19" x="2552.5" y="1154">studies should focus upon evaluating further systematic interventions and</text>
<text class="f19" x="2552.5" y="1176.6">protocolization to improve practices among orthopaedic surgeons and to create</text>
<text class="f19" x="2552.5" y="1199.2">opportunities for more effective linkage with primary care providers for follow up.</text>
<text class="f19" x="2552.5" y="1221.8">Furthermore, the investigators intend to look at the relationship between serum</text>
<text class="f19" x="2552.5" y="1244.4">calcium levels and callus formation on radiograph at follow up  as a measure of</text>
<text class="f19" x="2552.5" y="1267">healing.</text>

<rect class="bar" x="2511" y="1310" width="789" height="27"/>
<g transform="translate(2905 1331) scale(.8 1)"><text class="bs" x="1.5" y="1.5" text-anchor="middle">REFERENCES</text><text class="bt" text-anchor="middle">REFERENCES</text></g>
<rect class="box" x="2508" y="1338" width="784" height="350" rx="50" filter="url(#ds)"/>
<g class="r13">
<text class="r13" x="2532" y="1370">1.</text>
<text class="r13" x="2568" y="1370">Colon-Emeric C, Yballe L, Sloane R, Pieper CF, Lyles KW. Expert physician recommendations and current practice</text>
<text class="r13" x="2568" y="1385">patterns for evaluating and treating men with osteoporotic hip fracture. Journal of the American Geriatrics Society. Oct</text>
<text class="r13" x="2568" y="1400.7">2000;48(10):1261-1263.</text>
<text class="r13" x="2532" y="1416.7">2.</text>
<text class="r13" x="2568" y="1416.7">Gardner MJ, Flik KR, Mooar P, Lane JM. Improvement in the undertreatment of osteoporosis following hip fracture. The</text>
<text class="r13" x="2568" y="1431.7">Journal of bone and joint surgery. American volume. Aug 2002;84-A(8):1342-1348.</text>
<text class="r13" x="2532" y="1447.7">3.</text>
<text class="r13" x="2568" y="1447.7">Miki RA, Oetgen ME, Kirk J, Insogna KL, Lindskog DM. Orthopaedic management improves the rate of early osteoporosis</text>
<text class="r13" x="2568" y="1462.7">treatment after hip fracture. A randomized clinical trial. The Journal of bone and joint surgery. American volume. Nov</text>
<text class="r13" x="2568" y="1478.3">2008;90(11):2346-2353.</text>
<text class="r13" x="2532" y="1494.3">4.</text>
<text class="r13" x="2568" y="1494.3">Kim SR HY, Park YG, Lee SR, Koo KH. Orthopedic surgeon's awareness can improve osteoporosis treatment following hip</text>
<text class="r13" x="2568" y="1510">fracture: a prospective cohort study. J Korean Med Sci. Nov. 2011 2011;26(11):1501-1507.</text>
<text class="r13" x="2532" y="1525.7">5.</text>
<text class="r13" x="2568" y="1525.7">Gardner MJ, Brophy RH, Demetrakopoulos D, et al. Interventions to improve osteoporosis treatment following hip fracture.</text>
<text class="r13" x="2568" y="1540.7">A prospective, randomized trial. The Journal of bone and joint surgery. American volume. Jan 2005;87(1):3-7.</text>
<text class="r13" x="2532" y="1556.7">6.</text>
<text class="r13" x="2568" y="1556.7">Eisman JA, Bogoch ER, Dell R, et al. Making the first fracture the last fracture: ASBMR task force report on secondary</text>
<text class="r13" x="2568" y="1572.7">fracture prevention.<tspan font-style="italic">Journal of bone and mineral research : the official journal of the American Society for Bone and Mineral</tspan></text>
<text class="r13" x="2568" y="1587.7"><tspan font-style="italic">Research</tspan>. Jul 26 2012.</text>
<text class="r13" x="2532" y="1603.3">7.</text>
<text class="r13" x="2568" y="1603.3">Lujan TJ, Henderson CE, Madey SM, Fitzpatrick DC, Marsh JL, Bottlang M. Locked plating of distal femur fractures leads</text>
<text class="r13" x="2568" y="1619">to inconsistent and asymmetric callus formation. J Orthop Trauma. 2010 March; 24(3): 156–162.</text>
<text class="r13" x="2532" y="1635">8.</text>
<text class="r13" x="2568" y="1635">Haentjens P, Autier P, Barette M, Boonen S. The economic cost of hip fractures among elderly women. A one-year,</text>
<text class="r13" x="2568" y="1650">prospective, observational cohort study with matched-pair analysis. Belgian Hip Fracture Study Group. The Journal of</text>
<text class="r13" x="2568" y="1665.7">bone and joint surgery. American volume. Apr 2001;83-A(4):493-500.</text>
</g>
</svg>
</body></html>
